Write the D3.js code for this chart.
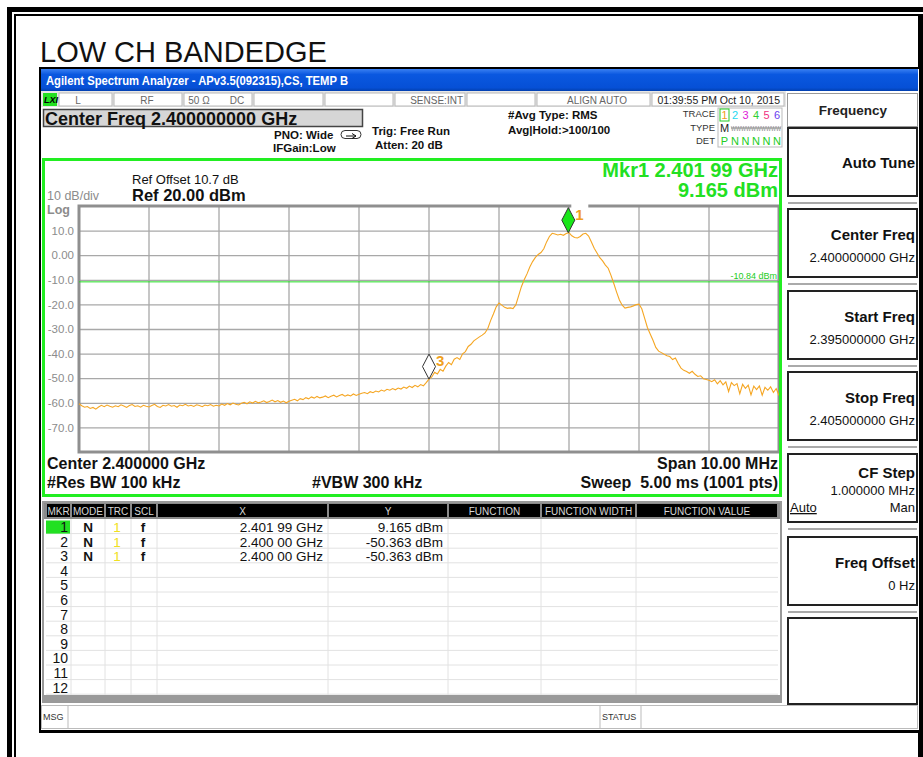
<!DOCTYPE html>
<html>
<head>
<meta charset="utf-8">
<script src="https://cdn.jsdelivr.net/npm/d3@7"></script>
<style>
  body { margin: 0; background: #fff; }
  svg { display: block; font-family: "Liberation Sans", Arial, sans-serif; }
</style>
</head>
<body>
<svg id="canvas" width="923" height="757"></svg>
<script>
// ************************************************************************************** //
// Data

var startFreq = 2.395, stopFreq = 2.405;   // GHz
var refLevel = 20, bottomLevel = -80;      // dBm
var yTickValues = [10, 0, -10, -20, -30, -40, -50, -60, -70];
var yTickLabels = ['10.0', '0.00', '-10.0', '-20.0', '-30.0', '-40.0', '-50.0', '-60.0', '-70.0'];
var xGridFreqs = [2.396, 2.397, 2.398, 2.399, 2.400, 2.401, 2.402, 2.403, 2.404];
var displayLine = -10.84;

// trace 1 (251 pts over the span)
var traceValues = [
  -60.4,-61.2,-61.8,-61.5,-62.3,-61.9,-62.6,-61.7,-61.0,-61.6,-60.9,-61.4,-61.8,-61.2,-61.6,-60.8,-61.3,-61.9,-61.1,-60.7,-61.5,-61.2,-61.8,-61.0,-61.4,-61.7,
  -61.1,-60.6,-61.5,-61.9,-61.0,-61.3,-60.7,-61.4,-61.1,-61.8,-60.9,-61.2,-60.6,-61.3,-61.0,-61.5,-60.8,-61.1,-61.6,-60.9,-61.2,-60.7,-61.4,-61.0,-61.3,
  -60.5,-61.0,-60.3,-60.8,-60.1,-60.6,-60.9,-60.2,-59.8,-60.4,-59.6,-60.1,-59.4,-60.0,-59.7,-59.2,-59.9,-59.5,-58.9,-59.6,-59.1,-59.8,-59.3,-60.0,-59.4,
  -59.0,-58.6,-59.2,-58.3,-58.7,-57.9,-58.4,-57.6,-58.1,-57.4,-58.0,-57.7,-57.2,-57.9,-57.3,-56.9,-57.6,-57.0,-56.6,-57.3,-56.8,-57.2,-56.4,-57.0,-56.5,
  -56.1,-55.8,-56.3,-55.5,-55.9,-55.2,-55.6,-54.8,-55.3,-54.5,-54.9,-54.2,-54.7,-54.0,-54.4,-53.6,-54.1,-53.2,-53.8,-52.9,-53.5,-52.6,-53.1,-51.8,-50.4,
  -49.5,-47.6,-48.3,-46.4,-47.2,-45.1,-43.6,-44.5,-42.3,-41.6,-42.4,-40.1,-39.2,-37.1,-36.2,-34.8,-34.0,-33.2,-32.5,-31.6,-29.8,-26.6,-23.9,-21.0,-19.4,
  -20.3,-21.2,-21.6,-21.4,-21.7,-20.2,-16.5,-12.8,-10.0,-7.6,-4.8,-2.6,-0.9,0.3,1.1,2.6,5.4,7.6,8.9,8.6,8.2,8.5,8.1,8.8,9.165,
  7.9,7.2,7.0,7.6,8.6,8.9,7.8,5.4,2.8,0.9,-1.0,-2.3,-4.0,-5.3,-8.2,-11.5,-15.0,-18.2,-20.3,-21.5,-21.2,-21.0,-20.6,-20.1,-19.9,
  -21.8,-25.6,-29.4,-32.0,-34.6,-37.5,-39.0,-39.6,-40.3,-40.9,-41.2,-42.4,-41.8,-44.0,-45.9,-46.8,-47.3,-48.0,-47.2,-48.4,-49.3,-49.0,-50.2,-50.5,-50.8,
  -51.4,-50.6,-52.3,-51.0,-52.7,-51.5,-55.4,-51.8,-53.0,-52.2,-56.3,-52.5,-54.1,-52.8,-56.8,-53.2,-54.6,-53.1,-56.9,-53.7,-54.9,-53.5,-55.8,-54.2,-57.0
];

// markers on screen (marker 2 sits exactly under marker 3)
var markerIds = ['1', '3'];
var markerFreqs = [2.40199, 2.40000];
var markerLevels = [9.165, -50.363];
var markerFills = ['#19e619', '#ffffff'];

// marker table
var tableHeaders = ['MKR', 'MODE', 'TRC', 'SCL', 'X', 'Y', 'FUNCTION', 'FUNCTION WIDTH', 'FUNCTION VALUE'];
var tableMkr = ['1', '2', '3', '4', '5', '6', '7', '8', '9', '10', '11', '12'];
var tableMode = ['N', 'N', 'N'];
var tableTrc = ['1', '1', '1'];
var tableScl = ['f', 'f', 'f'];
var tableX = ['2.401 99 GHz', '2.400 00 GHz', '2.400 00 GHz'];
var tableY = ['9.165 dBm', '-50.363 dBm', '-50.363 dBm'];

// softkeys
var softkeyTitles = ['Auto Tune', 'Center Freq', 'Start Freq', 'Stop Freq', 'CF Step', 'Freq Offset'];
var softkeyValues = ['', '2.400000000 GHz', '2.395000000 GHz', '2.405000000 GHz', '1.000000 MHz', '0 Hz'];

// ************************************************************************************** //
// Frame and window

var svg = d3.select('#canvas');

svg.append('rect').attr('x', 7).attr('y', 7).attr('width', 916).attr('height', 5).attr('fill', '#000');
svg.append('rect').attr('x', 7).attr('y', 7).attr('width', 5).attr('height', 750).attr('fill', '#000');
svg.append('rect').attr('x', 14).attr('y', 14).attr('width', 909).attr('height', 2).attr('fill', '#000');
svg.append('rect').attr('x', 14).attr('y', 14).attr('width', 2).attr('height', 743).attr('fill', '#000');
svg.append('rect').attr('x', 918).attr('y', 14).attr('width', 5).attr('height', 743).attr('fill', '#000');

svg.append('text').attr('x', 40).attr('y', 62).attr('font-size', 29).attr('fill', '#111').text('LOW CH BANDEDGE');

// instrument window
svg.append('rect').attr('x', 39).attr('y', 67).attr('width', 880).attr('height', 666).attr('fill', '#fff');
svg.append('rect').attr('x', 39).attr('y', 67).attr('width', 880).attr('height', 2).attr('fill', '#000');
svg.append('rect').attr('x', 39).attr('y', 67).attr('width', 2).attr('height', 666).attr('fill', '#000');
svg.append('rect').attr('x', 39).attr('y', 730).attr('width', 880).attr('height', 3).attr('fill', '#000');

var grad = svg.append('defs').append('linearGradient').attr('id', 'titleGrad').attr('x1', 0).attr('y1', 0).attr('x2', 0).attr('y2', 1);
grad.append('stop').attr('offset', '0%').attr('stop-color', '#3a80f2');
grad.append('stop').attr('offset', '25%').attr('stop-color', '#0a58e0');
grad.append('stop').attr('offset', '85%').attr('stop-color', '#0650d6');
grad.append('stop').attr('offset', '100%').attr('stop-color', '#0240b0');
svg.append('rect').attr('x', 41).attr('y', 69).attr('width', 877).attr('height', 22).attr('fill', 'url(#titleGrad)');
svg.append('text').attr('x', 46).attr('y', 85).attr('font-size', 12).attr('font-weight', 'bold').attr('fill', '#fff')
  .attr('textLength', 302).attr('lengthAdjust', 'spacingAndGlyphs')
  .text('Agilent Spectrum Analyzer - APv3.5(092315),CS, TEMP B');

// ************************************************************************************** //
// Status bar and settings

var statusBar = svg.append('g');
statusBar.append('rect').attr('x', 41).attr('y', 91).attr('width', 745).attr('height', 16).attr('fill', '#e6e6e6');
var statusCells = [[58, 113], [113, 183], [183, 253], [253, 324], [324, 394], [394, 466], [466, 536], [536, 651], [651, 785]];
statusCells.forEach(function(c){
  statusBar.append('rect').attr('x', c[0] + 1).attr('y', 93).attr('width', c[1] - c[0] - 2).attr('height', 13)
    .attr('fill', '#fff').attr('stroke', '#b8b8b8').attr('stroke-width', 1);
});
statusBar.append('rect').attr('x', 43).attr('y', 93).attr('width', 14).attr('height', 13).attr('fill', '#22e022');
statusBar.append('text').attr('x', 44).attr('y', 103).attr('font-size', 9).attr('font-weight', 'bold').attr('font-style', 'italic').text('LXI');
var statusTexts = [['L', 78, 'middle'], ['RF', 147, 'middle'], ['50 \u03a9', 199, 'middle'], ['DC', 237, 'middle'],
                   ['SENSE:INT', 463, 'end'], ['ALIGN AUTO', 597, 'middle']];
statusTexts.forEach(function(t){
  statusBar.append('text').attr('x', t[1]).attr('y', 103.5).attr('font-size', 10).attr('fill', '#666')
    .attr('text-anchor', t[2]).text(t[0]);
});
statusBar.append('text').attr('x', 780).attr('y', 103.5).attr('font-size', 10.5).attr('fill', '#222')
  .attr('text-anchor', 'end').text('01:39:55 PM Oct 10, 2015');

svg.append('rect').attr('x', 43.5).attr('y', 109.5).attr('width', 319).attr('height', 17)
  .attr('fill', '#d6d6d6').attr('stroke', '#444').attr('stroke-width', 1.5);
svg.append('text').attr('x', 45).attr('y', 124.5).attr('font-size', 18).attr('font-weight', 'bold').attr('fill', '#111')
  .text('Center Freq 2.400000000 GHz');

var settings = [['PNO: Wide', 274, 138.5], ['IFGain:Low', 273, 151.5], ['Trig: Free Run', 372, 134.5], ['Atten: 20 dB', 375, 148.5],
                ['#Avg Type: RMS', 508, 119], ['Avg|Hold:>100/100', 508, 134]];
settings.forEach(function(s){
  svg.append('text').attr('x', s[1]).attr('y', s[2]).attr('font-size', 11.5).attr('font-weight', 'bold').attr('fill', '#111').text(s[0]);
});
// trigger icon
svg.append('rect').attr('x', 341).attr('y', 130.5).attr('width', 20).attr('height', 8).attr('rx', 4)
  .attr('fill', '#fff').attr('stroke', '#333').attr('stroke-width', 1);
svg.append('path').attr('d', 'M346,136 L356,136 M352,133.5 L356,136 L352,138.5').attr('stroke', '#111').attr('fill', 'none');

// trace info block
var traceInfo = svg.append('g');
[['TRACE', 117], ['TYPE', 131], ['DET', 144]].forEach(function(t){
  traceInfo.append('text').attr('x', 715).attr('y', t[1]).attr('font-size', 9.5).attr('fill', '#333').attr('text-anchor', 'end').text(t[0]);
});
traceInfo.append('rect').attr('x', 718).attr('y', 108).attr('width', 64).attr('height', 39).attr('fill', '#fff').attr('stroke', '#bbb');
var traceNums = ['1', '2', '3', '4', '5', '6'];
var traceColors = ['#f0a020', '#22d8f0', '#e020d8', '#30d030', '#f03080', '#6a40f0'];
traceInfo.append('rect').attr('x', 720).attr('y', 109).attr('width', 9).attr('height', 12).attr('fill', 'none').attr('stroke', '#2c2');
traceNums.forEach(function(n, i){
  traceInfo.append('text').attr('x', 724.5 + i * 10.5).attr('y', 119).attr('font-size', 11).attr('fill', traceColors[i]).attr('text-anchor', 'middle').text(n);
  traceInfo.append('text').attr('x', 724.5 + i * 10.5).attr('y', 145).attr('font-size', 11).attr('fill', '#22cc22').attr('text-anchor', 'middle').text(i === 0 ? 'P' : 'N');
});
traceInfo.append('text').attr('x', 720).attr('y', 132).attr('font-size', 11).attr('fill', '#222').text('M');
traceInfo.append('text').attr('x', 731).attr('y', 131).attr('font-size', 8).attr('fill', '#888')
  .attr('textLength', 50).attr('lengthAdjust', 'spacingAndGlyphs').text('WWWWWWWWWW');
traceInfo.append('line').attr('x1', 731).attr('x2', 781).attr('y1', 128).attr('y2', 128).attr('stroke', '#888');

// ************************************************************************************** //
// Graph

var plot = { left: 79, right: 779, top: 206, bottom: 452 };
var x = d3.scaleLinear().domain([startFreq, stopFreq]).range([plot.left, plot.right]);
var y = d3.scaleLinear().domain([bottomLevel, refLevel]).range([plot.bottom, plot.top]);

var graph = svg.append('g');

// vertical grid
graph.selectAll('.vgrid').data(xGridFreqs).enter().append('line')
  .attr('x1', function(d){ return x(d); }).attr('x2', function(d){ return x(d); })
  .attr('y1', plot.top).attr('y2', plot.bottom)
  .attr('stroke', '#a8a8a8').attr('stroke-width', 1.3);

// horizontal grid + labels via an axis
var yAxis = d3.axisLeft(y).tickValues(yTickValues)
  .tickFormat(function(d, i){ return yTickLabels[i]; })
  .tickSize(-(plot.right - plot.left)).tickPadding(5);
var yAxisG = graph.append('g').attr('transform', 'translate(' + plot.left + ',0)').call(yAxis);
yAxisG.select('.domain').remove();
yAxisG.selectAll('line').attr('stroke', '#a8a8a8').attr('stroke-width', 1.3);
yAxisG.selectAll('text').attr('font-family', '"Liberation Sans", Arial, sans-serif').attr('font-size', 11.5).attr('fill', '#8c8c8c');

// plot border
graph.append('path').attr('d', 'M' + plot.right + ',' + plot.top + ' H' + plot.left + ' V' + plot.bottom + ' H' + plot.right + ' V' + plot.top)
  .attr('fill', 'none').attr('stroke', '#8f8f8f').attr('stroke-width', 3);

// display line
graph.append('line').attr('x1', plot.left).attr('x2', plot.right).attr('y1', y(displayLine)).attr('y2', y(displayLine))
  .attr('stroke', '#22dd22').attr('stroke-width', 1);
graph.append('text').attr('x', 777).attr('y', y(displayLine) - 3).attr('font-size', 9).attr('fill', '#22cc22')
  .attr('text-anchor', 'end').text('-10.84 dBm');

// trace
var step = (stopFreq - startFreq) / (traceValues.length - 1);
var lineGen = d3.line()
  .x(function(d, i){ return x(startFreq + i * step); })
  .y(function(d){ return y(d); });
graph.append('path').attr('d', lineGen(traceValues))
  .attr('fill', 'none').attr('stroke', '#f5a623').attr('stroke-width', 1.1);

// markers
markerIds.forEach(function(id, i){
  var mx = x(markerFreqs[i]), my = y(markerLevels[i]);
  if (i === 0) graph.append('rect').attr('x', mx + 3).attr('y', plot.top - 3).attr('width', 17).attr('height', 6).attr('fill', '#fff');
  graph.append('path')
    .attr('d', 'M' + mx + ',' + my + ' L' + (mx + 6.5) + ',' + (my - 12.5) + ' L' + mx + ',' + (my - 25) + ' L' + (mx - 6.5) + ',' + (my - 12.5) + ' Z')
    .attr('fill', markerFills[i]).attr('stroke', '#333').attr('stroke-width', 1);
  graph.append('text').attr('x', mx + 7).attr('y', my - 13).attr('font-size', 15).attr('font-weight', 'bold')
    .attr('fill', '#f0a020').text(id);
});

// green frame
svg.append('rect').attr('x', 43.5).attr('y', 159.5).attr('width', 737).attr('height', 336)
  .attr('fill', 'none').attr('stroke', '#22ee22').attr('stroke-width', 3);

// annotation texts
svg.append('text').attr('x', 132).attr('y', 184).attr('font-size', 13).attr('fill', '#111').text('Ref Offset 10.7 dB');
svg.append('text').attr('x', 132).attr('y', 201).attr('font-size', 16.5).attr('font-weight', 'bold').attr('fill', '#111').text('Ref 20.00 dBm');
svg.append('text').attr('x', 47).attr('y', 200).attr('font-size', 12.5).attr('fill', '#8c8c8c').text('10 dB/div');
svg.append('text').attr('x', 47).attr('y', 214).attr('font-size', 12.5).attr('font-weight', 'bold').attr('fill', '#8c8c8c').text('Log');
svg.append('text').attr('x', 778).attr('y', 177).attr('font-size', 20).attr('font-weight', 'bold').attr('fill', '#22e022')
  .attr('text-anchor', 'end').text('Mkr1 2.401 99 GHz');
svg.append('text').attr('x', 778).attr('y', 197).attr('font-size', 20).attr('font-weight', 'bold').attr('fill', '#22e022')
  .attr('text-anchor', 'end').text('9.165 dBm');

var footer = [['Center 2.400000 GHz', 47, 469, 'start'], ['#Res BW 100 kHz', 47, 488, 'start'], ['#VBW 300 kHz', 312, 488, 'start'],
              ['Span 10.00 MHz', 778, 469, 'end'], ['Sweep  5.00 ms (1001 pts)', 778, 488, 'end']];
footer.forEach(function(f){
  svg.append('text').attr('x', f[1]).attr('y', f[2]).attr('font-size', 16).attr('font-weight', 'bold').attr('fill', '#111')
    .attr('text-anchor', f[3]).style('white-space', 'pre').text(f[0]);
});

// ************************************************************************************** //
// Marker table

var colEdges = [46, 71, 105, 131, 157, 328, 448, 541, 636, 778];
var rowTop = 519, rowH = 14.6;
var table = svg.append('g');
table.append('rect').attr('x', 43).attr('y', 502).attr('width', 738).attr('height', 200).attr('fill', '#fff').attr('stroke', '#999').attr('stroke-width', 2);
table.append('rect').attr('x', 44).attr('y', 695).attr('width', 736).attr('height', 7).attr('fill', '#9a9a9a');
table.append('rect').attr('x', 44).attr('y', 503).attr('width', 736).attr('height', 16).attr('fill', '#8a8a8a');
tableHeaders.forEach(function(h, i){
  var x0 = colEdges[i], x1 = colEdges[i + 1];
  table.append('rect').attr('x', x0 + 1).attr('y', 504).attr('width', x1 - x0 - 2).attr('height', 13).attr('fill', '#000');
  table.append('text').attr('x', (x0 + x1) / 2).attr('y', 514.5).attr('font-size', 10).attr('fill', '#d8d8d8')
    .attr('text-anchor', 'middle').text(h);
});
// body grid
tableMkr.forEach(function(m, r){
  table.append('line').attr('x1', 46).attr('x2', 778).attr('y1', rowTop + (r + 1) * rowH).attr('y2', rowTop + (r + 1) * rowH).attr('stroke', '#e2e2e2');
});
colEdges.slice(1, -1).forEach(function(c){
  table.append('line').attr('x1', c).attr('x2', c).attr('y1', rowTop).attr('y2', 695).attr('stroke', '#e2e2e2');
});
table.append('rect').attr('x', 46).attr('y', rowTop + 1.5).attr('width', 24).attr('height', rowH - 1.5).attr('fill', '#22e022');
tableMkr.forEach(function(m, r){
  var by = rowTop + r * rowH + 13;
  table.append('text').attr('x', 68).attr('y', by).attr('font-size', 14).attr('fill', '#111').attr('text-anchor', 'end').text(m);
  if (r < tableX.length) {
    table.append('text').attr('x', 88).attr('y', by).attr('font-size', 13.5).attr('font-weight', 'bold').attr('fill', '#111').attr('text-anchor', 'middle').text(tableMode[r]);
    table.append('text').attr('x', 117).attr('y', by).attr('font-size', 13.5).attr('fill', '#f0e020').attr('text-anchor', 'middle').text(tableTrc[r]);
    table.append('text').attr('x', 143).attr('y', by).attr('font-size', 13.5).attr('font-weight', 'bold').attr('fill', '#111').attr('text-anchor', 'middle').text(tableScl[r]);
    table.append('text').attr('x', 323).attr('y', by).attr('font-size', 13.5).attr('fill', '#111').attr('text-anchor', 'end').text(tableX[r]);
    table.append('text').attr('x', 443).attr('y', by).attr('font-size', 13.5).attr('fill', '#111').attr('text-anchor', 'end').text(tableY[r]);
  }
});

// message bar
svg.append('rect').attr('x', 41.5).attr('y', 705.5).attr('width', 876).attr('height', 23).attr('fill', '#fff').attr('stroke', '#bbb');
svg.append('line').attr('x1', 68).attr('x2', 68).attr('y1', 706).attr('y2', 729).attr('stroke', '#bbb');
svg.append('line').attr('x1', 600).attr('x2', 600).attr('y1', 706).attr('y2', 729).attr('stroke', '#bbb');
svg.append('line').attr('x1', 641).attr('x2', 641).attr('y1', 706).attr('y2', 729).attr('stroke', '#bbb');
svg.append('text').attr('x', 43).attr('y', 720).attr('font-size', 9).attr('fill', '#333').text('MSG');
svg.append('text').attr('x', 602).attr('y', 720).attr('font-size', 9).attr('fill', '#333').text('STATUS');

// ************************************************************************************** //
// Softkey panel

var panel = svg.append('g');
panel.append('rect').attr('x', 786).attr('y', 91).attr('width', 132).attr('height', 613).attr('fill', '#fff');
panel.append('rect').attr('x', 787.5).attr('y', 93.5).attr('width', 130).attr('height', 33).attr('fill', '#fff').attr('stroke', '#999');
panel.append('text').attr('x', 853).attr('y', 115).attr('font-size', 13.5).attr('font-weight', 'bold').attr('fill', '#222').attr('text-anchor', 'middle').text('Frequency');
var keyTops = [128, 209, 291, 372, 454, 537];
softkeyTitles.forEach(function(t, i){
  var top = keyTops[i];
  panel.append('rect').attr('x', 788).attr('y', top).attr('width', 129).attr('height', 68).attr('fill', '#fff').attr('stroke', '#222').attr('stroke-width', 2);
  panel.append('line').attr('x1', 788).attr('x2', 917).attr('y1', top + 75).attr('y2', top + 75).attr('stroke', '#aaa').attr('stroke-width', 2);
  var titleY = i === 0 ? top + 40 : (i === 4 ? top + 24 : top + 31);
  panel.append('text').attr('x', 915).attr('y', titleY).attr('font-size', 15).attr('font-weight', 'bold').attr('fill', '#111')
    .attr('text-anchor', 'end').text(t);
  if (softkeyValues[i]) {
    panel.append('text').attr('x', 915).attr('y', titleY + (i === 4 ? 17 : 22)).attr('font-size', 13).attr('fill', '#111')
      .attr('text-anchor', 'end').text(softkeyValues[i]);
  }
});
panel.append('text').attr('x', 790).attr('y', 512).attr('font-size', 13).attr('fill', '#111').attr('text-decoration', 'underline').text('Auto');
panel.append('text').attr('x', 915).attr('y', 512).attr('font-size', 13).attr('fill', '#111').attr('text-anchor', 'end').text('Man');
panel.append('rect').attr('x', 788).attr('y', 618).attr('width', 129).attr('height', 86).attr('fill', '#fff').attr('stroke', '#222').attr('stroke-width', 2);
</script>
</body>
</html>
